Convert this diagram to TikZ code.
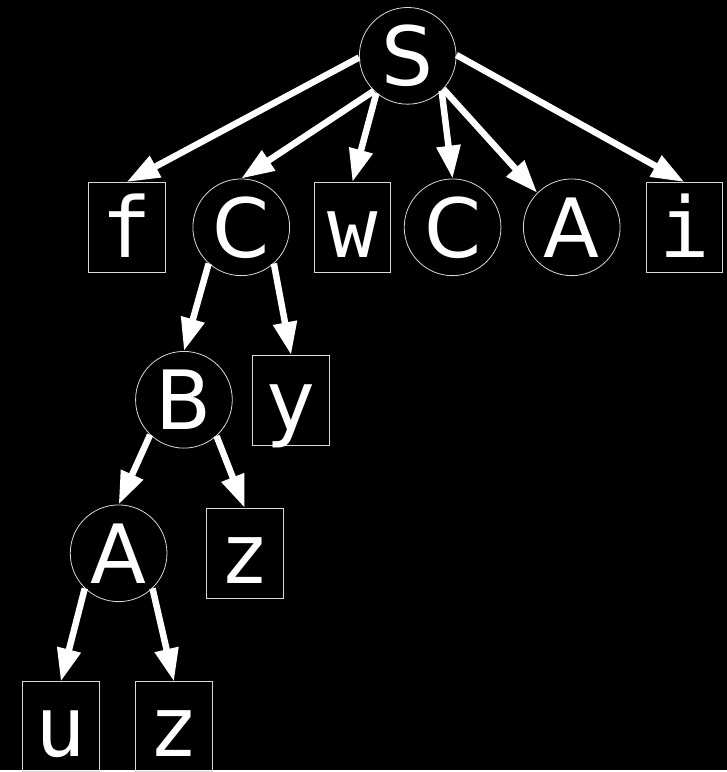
\documentclass[tikz,border=0pt]{standalone}
\usepackage{fontspec}
\setsansfont{DejaVu Sans}
\setmonofont{DejaVu Sans Mono}
\usetikzlibrary{arrows.meta}

\tikzset{
  sym/.style={draw=white!85!black,line width=0.8pt,text=white,inner sep=0pt,
    text height=60pt,text depth=0pt},
  var/.style={sym,circle,minimum size=97pt,font=\sffamily\fontsize{82}{90}\selectfont},
  leaf/.style={sym,rectangle,minimum width=77pt,minimum height=90pt,
    font=\ttfamily\fontsize{84}{90}\selectfont},
  edge/.style={white,line width=6.5pt,-{Triangle[length=33pt,width=23pt]}}
}

\begin{document}
\begin{tikzpicture}[x=1pt,y=-1pt]
        \fill[black] (0,0) rectangle (729,772);
        % nonterminals
        \foreach \n/\t/\x/\y in {S/S/409/56, C1/C/242/228, C2/C/454/228, A1/A/573.5/228,
            B/B/184.5/401, A2/A/119/555}
          \node[var] (\n) at (\x,\y) {\t};
        % terminals
        \foreach \n/\t/\x/\y in {f/f/127/228, w/w/353.5/228, i/i/686.5/228, y/y/292/401.5,
            z1/z/245.5/555, u/u/61/729, z2/z/174.5/729}
          \node[leaf] (\n) at (\x,\y) {\t};
        \foreach \a/\b in {S.182/f.north, S.226/C1.north, S.230/w.north, S.314/C2.north,
            S.317/A1.135, S.1/i.north, C1.228/B.north, C1.312/y.north,
            B.226/A2.north, B.312/z1.north, A2.226/u.north, A2.314/z2.north}
          \draw[edge] (\a) -- (\b);
      \end{tikzpicture}
\end{document}
